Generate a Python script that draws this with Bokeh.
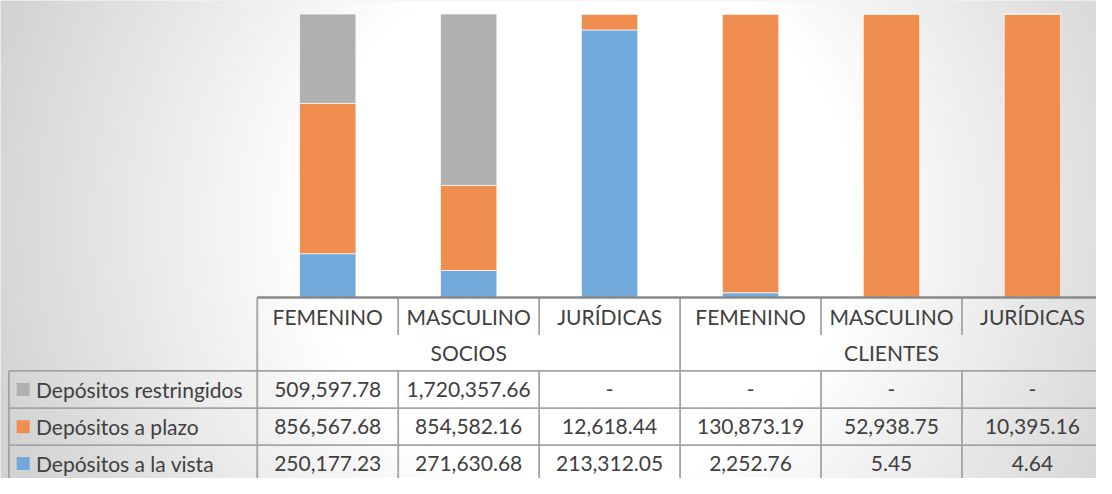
import numpy as np
from bokeh.plotting import figure
from bokeh.models import Range1d, ColumnDataSource
from bokeh.core.properties import value
from bokeh.embed import file_html
from bokeh.resources import INLINE

# ---------------- data ----------------
groups = ["SOCIOS", "CLIENTES"]
categories = ["FEMENINO", "MASCULINO", "JURÍDICAS", "FEMENINO", "MASCULINO", "JURÍDICAS"]
category_group = ["SOCIOS", "SOCIOS", "SOCIOS", "CLIENTES", "CLIENTES", "CLIENTES"]
series_names = ["Depósitos restringidos", "Depósitos a plazo", "Depósitos a la vista"]
restringidos = [509597.78, 1720357.66, 0.0, 0.0, 0.0, 0.0]
plazo = [856567.68, 854582.16, 12618.44, 130873.19, 52938.75, 10395.16]
vista = [250177.23, 271630.68, 213312.05, 2252.76, 5.45, 4.64]
series_colors = ["#B0B0B0", "#EE8D4E", "#72A9DB"]

# ---------------- layout helpers (reference pixel geometry) ----------------
PX0, CW = 260.5, 143.0          # left edge of first column, column width (px)
PY0, SY = 307.0, 2.93           # baseline px, px per percent


def xd(px):
    return (px - PX0) / CW


def yd(py):
    return (PY0 - py) / SY


n = len(categories)
xr = Range1d(xd(0), xd(1112))
yr = Range1d(yd(494), yd(0))

p = figure(width=1096, height=478, x_range=xr, y_range=yr,
           output_backend="svg", toolbar_location=None,
           x_axis_location=None, y_axis_location=None,
           min_border=0, min_border_left=0, min_border_right=0,
           min_border_top=0, min_border_bottom=0)
p.grid.visible = False
p.outline_line_color = None
p.background_fill_color = "#E8E8E8"
p.border_fill_color = "#E8E8E8"

# ---------------- background radial gradient ----------------
step = 2
gx = np.arange(0, 1112, step) + step / 2
gy = np.arange(494, 0, -step) - step / 2   # bottom row first
GX, GY = np.meshgrid(gx, gy)
d = np.sqrt((GX - 590.0) ** 2 + (GY - 230.0) ** 2)
t = np.clip((d - 280.0) / 340.0, 0, 1)
v = (255 - 44 * t).astype(np.uint8)
rgba = np.zeros(v.shape + (4,), dtype=np.uint8)
rgba[..., 0] = v
rgba[..., 1] = v
rgba[..., 2] = v
rgba[..., 3] = 255
img = rgba.view(dtype=np.uint32).reshape(v.shape)
p.image_rgba(image=[img], x=xr.start, y=yr.start,
             dw=xr.end - xr.start, dh=yr.end - yr.start)

# ---------------- stacked 100% bars ----------------
totals = [a + b + c for a, b, c in zip(restringidos, plazo, vista)]
src = ColumnDataSource(dict(
    xc=[i + 0.5 for i in range(n)],
    vista_pct=[100 * a / t_ for a, t_ in zip(vista, totals)],
    plazo_pct=[100 * a / t_ for a, t_ in zip(plazo, totals)],
    restr_pct=[100 * a / t_ for a, t_ in zip(restringidos, totals)],
))
p.vbar_stack(["vista_pct", "plazo_pct", "restr_pct"], x="xc", width=0.4, source=src,
             color=[series_colors[2], series_colors[1], series_colors[0]],
             line_color="white", line_alpha=0.7, line_width=1)

# ---------------- data table ----------------
R = [307.0, 345.7, 382.7, 421.3, 459.5, 497.5]     # row boundaries (px)
LEFT = xd(8.5)
grid_col = "#A3A3A3"

sx0, sy0, sx1, sy1 = [], [], [], []


def seg(a, b, c, d_):
    sx0.append(a); sy0.append(b); sx1.append(c); sy1.append(d_)


# column dividers in category row
for b in range(1, n):
    seg(b, yd(R[0]), b, yd(R[1]))
# group divider(s) in group row
for b in range(1, len(groups)):
    gb = category_group.index(groups[b])
    seg(gb, yd(R[1]), gb, yd(R[2]))
# outer verticals of header block
seg(0, yd(R[0]), 0, yd(R[5]))
seg(n, yd(R[0]), n, yd(R[5]))
# horizontal lines of data rows
for r in R[2:]:
    seg(LEFT, yd(r), n, yd(r))
# verticals of data rows
seg(LEFT, yd(R[2]), LEFT, yd(R[5]))
for b in range(1, n):
    seg(b, yd(R[2]), b, yd(R[5]))
p.segment(x0=sx0, y0=sy0, x1=sx1, y1=sy1, line_color=grid_col, line_width=1.8)

# axis line
p.segment(x0=[0], y0=[0], x1=[n], y1=[0], line_color="#8A8A8A", line_width=2.6)

FONT = value("Lato")
FS = value("21px")
TXT = "#404040"

# category labels
p.text(x=[i + 0.5 for i in range(n)], y=[yd((R[0] + R[1]) / 2)] * n, text=categories,
       text_font=FONT, text_font_size=FS, text_color=TXT,
       text_align="center", text_baseline="middle")
# group labels
gxs = []
for g in groups:
    idx = [i for i, c in enumerate(category_group) if c == g]
    gxs.append((min(idx) + max(idx) + 1) / 2)
p.text(x=gxs, y=[yd((R[1] + R[2]) / 2)] * len(groups), text=groups,
       text_font=FONT, text_font_size=FS, text_color=TXT,
       text_align="center", text_baseline="middle")


def fmt(vv):
    return "-" if vv == 0 else f"{vv:,.2f}"


rows = [restringidos, plazo, vista]
for k, (name, vals, col) in enumerate(zip(series_names, rows, series_colors)):
    yc = yd((R[2 + k] + R[3 + k]) / 2)
    p.text(x=[i + 0.5 for i in range(n)], y=[yc] * n, text=[fmt(a) for a in vals],
           text_font=FONT, text_font_size=FS, text_color=TXT,
           text_align="center", text_baseline="middle")
    p.rect(x=[xd(23)], y=[yc], width=13, height=13, width_units="screen",
           height_units="screen", fill_color=col, line_color=None)
    p.text(x=[xd(36)], y=[yc], text=[name],
           text_font=FONT, text_font_size=FS, text_color=TXT,
           text_align="left", text_baseline="middle")

open("out.html", "w").write(file_html(p, INLINE))
